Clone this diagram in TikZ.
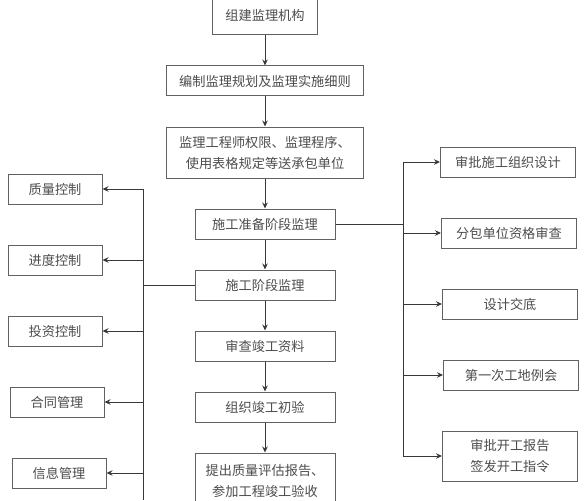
\documentclass[tikz,border=0pt]{standalone}
\usepackage{fontspec}
\usetikzlibrary{arrows.meta,positioning,calc}
\newfontfamily\cjk{Noto Sans CJK SC}
\definecolor{boxgray}{rgb}{0.38,0.38,0.38}
\definecolor{linegray}{rgb}{0.22,0.22,0.22}
\definecolor{textgray}{rgb}{0.30,0.30,0.30}

\begin{document}
\begin{tikzpicture}[
      x=1pt, y=-1pt,
      node distance=30pt and 40pt,
      box/.style={rectangle, draw=boxgray, line width=1pt, text centered, text=textgray, font=\cjk\fontsize{13.2}{21}\selectfont, minimum height=30pt, inner sep=2pt},
      side/.style={box, minimum width=94pt},
      task/.style={box, minimum width=135pt},
      arrow/.style={->, >={Stealth[length=6pt,width=5.5pt]}, line width=1pt, color=linegray},
      line/.style={line width=1pt, color=linegray}
    ]
      \clip (0,0) rectangle (585,500);

      % main chain
      \node[box, minimum width=105pt, minimum height=40pt] (org) at (265,15) {组建监理机构};
      \node[box, below=of org, minimum width=197pt] (plan) {编制监理规划及监理实施细则};
      \node[box, below=of plan, minimum width=197pt, minimum height=51pt, align=center] (notify) {监理工程师权限、监理程序、\\使用表格规定等送承包单位};
      \node[box, below=of notify, minimum width=140pt] (prep) {施工准备阶段监理};
      \node[box, below=of prep, minimum width=140pt] (stage) {施工阶段监理};
      \node[box, below=of stage, minimum width=140pt] (review) {审查竣工资料};
      \node[box, below=of review, minimum width=140pt] (inspect) {组织竣工初验};
      \node[box, below=of inspect, minimum width=140pt, minimum height=55pt, align=center] (report) {提出质量评估报告、\\参加工程竣工验收};

      % left column
      \node[side] (quality) at (55,189) {质量控制};
      \node[side, below=40pt of quality] (progress) {进度控制};
      \node[side, below=40pt of progress] (invest) {投资控制};
      \node[side, below=40pt of invest, xshift=2pt] (contract) {合同管理};
      \node[side, below=40pt of contract, xshift=2pt] (info) {信息管理};

      % right column
      \node[task] (design) at (508,162) {审批施工组织设计};
      \node[task, below=40pt of design, xshift=1pt] (subcon) {分包单位资格审查};
      \node[task, below=40pt of subcon, xshift=1pt] (brief) {设计交底};
      \node[task, below=40pt of brief, xshift=1pt] (meeting) {第一次工地例会};
      \node[task, below=40pt of meeting, xshift=-1pt, minimum height=50pt, align=center] (start) {审批开工报告\\签发开工指令};

      \coordinate (lbus) at (143,189);
      \coordinate (lend) at (143,500);
      \coordinate (rbus) at (403,162);

      \draw[arrow] (org) -- (plan);
      \draw[arrow] (plan) -- (notify);
      \draw[arrow] (notify) -- (prep);
      \draw[arrow] (prep) -- (stage);
      \draw[arrow] (stage) -- (review);
      \draw[arrow] (review) -- (inspect);
      \draw[arrow] (inspect) -- (report);

      \draw[line] (lbus) -- (lend);
      \draw[line] (stage.west) -- (lbus |- stage.west);
      \draw[arrow] (lbus) -- (quality);
      \draw[arrow] (lbus |- progress) -- (progress);
      \draw[arrow] (lbus |- invest) -- (invest);
      \draw[arrow] (lbus |- contract) -- (contract);
      \draw[arrow] (lbus |- info) -- (info);

      \draw[line] (rbus) -- (rbus |- start);
      \draw[line] (prep.east) -- (rbus |- prep.east);
      \draw[arrow] (rbus) -- (design);
      \draw[arrow] (rbus |- subcon) -- (subcon);
      \draw[arrow] (rbus |- brief) -- (brief);
      \draw[arrow] (rbus |- meeting) -- (meeting);
      \draw[arrow] (rbus |- start) -- (start);
    \end{tikzpicture}
\end{document}
